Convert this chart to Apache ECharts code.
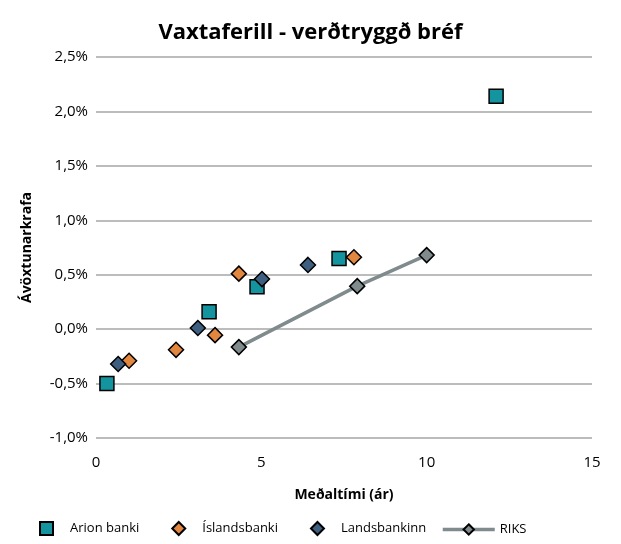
<!DOCTYPE html>
<html>
<head>
<meta charset="utf-8">
<script src="https://cdn.jsdelivr.net/npm/echarts@6/dist/echarts.min.js"></script>
<style>
  html, body { margin: 0; padding: 0; background: #fff; }
  #chart { width: 621px; height: 544px; }
</style>
</head>
<body>
<div id="chart"></div>
<script>
// data: [meðaltími (ár), ávöxtunarkrafa (%)]
const arion = [[0.33, -0.50], [3.42, 0.16], [4.87, 0.39], [7.35, 0.65], [12.1, 2.14]];
const islandsbanki = [[1.0, -0.29], [2.42, -0.19], [3.6, -0.055], [4.32, 0.51], [7.8, 0.66]];
const landsbankinn = [[0.67, -0.32], [3.08, 0.01], [5.02, 0.46], [6.41, 0.59]];
const riks = [[4.32, -0.165], [7.9, 0.395], [10.0, 0.68]];
const seriesNames = ["Arion banki", "Íslandsbanki", "Landsbankinn", "RIKS"];

const font = "'Open Sans', 'Liberation Sans', sans-serif";
const legendText = { fontFamily: font, fontSize: 13, color: "#000" };

const chart = echarts.init(document.getElementById("chart"));
chart.setOption({
  animation: false,
  textStyle: { fontFamily: font },
  title: {
    text: "Vaxtaferill - verðtryggð bréf",
    left: "center",
    top: 17,
    textStyle: { fontFamily: font, fontSize: 22, fontWeight: "bold", color: "#000" }
  },
  grid: { left: 96, right: 29, top: 57, bottom: 106 },
  legend: [
    {
      // the three scatter series, small square / diamond icons
      left: 34,
      bottom: 3,
      itemGap: 32,
      itemWidth: 13,
      itemHeight: 13,
      textStyle: Object.assign({ padding: [0, 0, 0, 12] }, legendText),
      data: seriesNames.slice(0, 3)
    },
    {
      // RIKS line with marker
      left: 436,
      bottom: 3,
      itemWidth: 52,
      itemHeight: 13,
      lineStyle: { color: "#7f8b8c", width: 3.5 },
      textStyle: legendText,
      data: seriesNames.slice(3)
    }
  ],
  xAxis: {
    type: "value",
    min: 0,
    max: 15,
    interval: 5,
    name: "Meðaltími (ár)",
    nameLocation: "middle",
    nameGap: 50,
    nameTextStyle: { fontFamily: font, fontSize: 14, fontWeight: "bold", color: "#000" },
    axisLine: { show: false },
    axisTick: { show: false },
    splitLine: { show: false },
    axisLabel: { fontFamily: font, fontSize: 15, color: "#000", margin: 17 }
  },
  yAxis: {
    type: "value",
    min: -1.0,
    max: 2.5,
    interval: 0.5,
    name: "Ávöxtunarkrafa",
    nameLocation: "middle",
    nameGap: 62,
    nameTextStyle: { fontFamily: font, fontSize: 14, fontWeight: "bold", color: "#000" },
    axisLine: { show: false },
    axisTick: { show: false },
    splitLine: { lineStyle: { color: "#a6a6a6", width: 1.5 } },
    axisLabel: {
      fontFamily: font, fontSize: 15, color: "#000", margin: 8,
      formatter: v => v.toFixed(1).replace(".", ",") + "%"
    }
  },
  series: [
    {
      name: seriesNames[0],
      type: "scatter",
      symbol: "rect",
      symbolSize: 14,
      data: arion,
      itemStyle: { color: "#14949f", borderColor: "#000", borderWidth: 1.5, opacity: 1 }
    },
    {
      name: seriesNames[1],
      type: "scatter",
      symbol: "diamond",
      symbolSize: 15,
      data: islandsbanki,
      itemStyle: { color: "#e2873f", borderColor: "#000", borderWidth: 1.5, opacity: 1 }
    },
    {
      name: seriesNames[2],
      type: "scatter",
      symbol: "diamond",
      symbolSize: 15,
      data: landsbankinn,
      itemStyle: { color: "#3e5f80", borderColor: "#000", borderWidth: 1.5, opacity: 1 }
    },
    {
      name: seriesNames[3],
      type: "line",
      symbol: "diamond",
      symbolSize: 15,
      data: riks,
      lineStyle: { color: "#7f8b8c", width: 3.5 },
      itemStyle: { color: "#7f8b8c", borderColor: "#000", borderWidth: 1.5, opacity: 1 }
    }
  ]
});
</script>
</body>
</html>
